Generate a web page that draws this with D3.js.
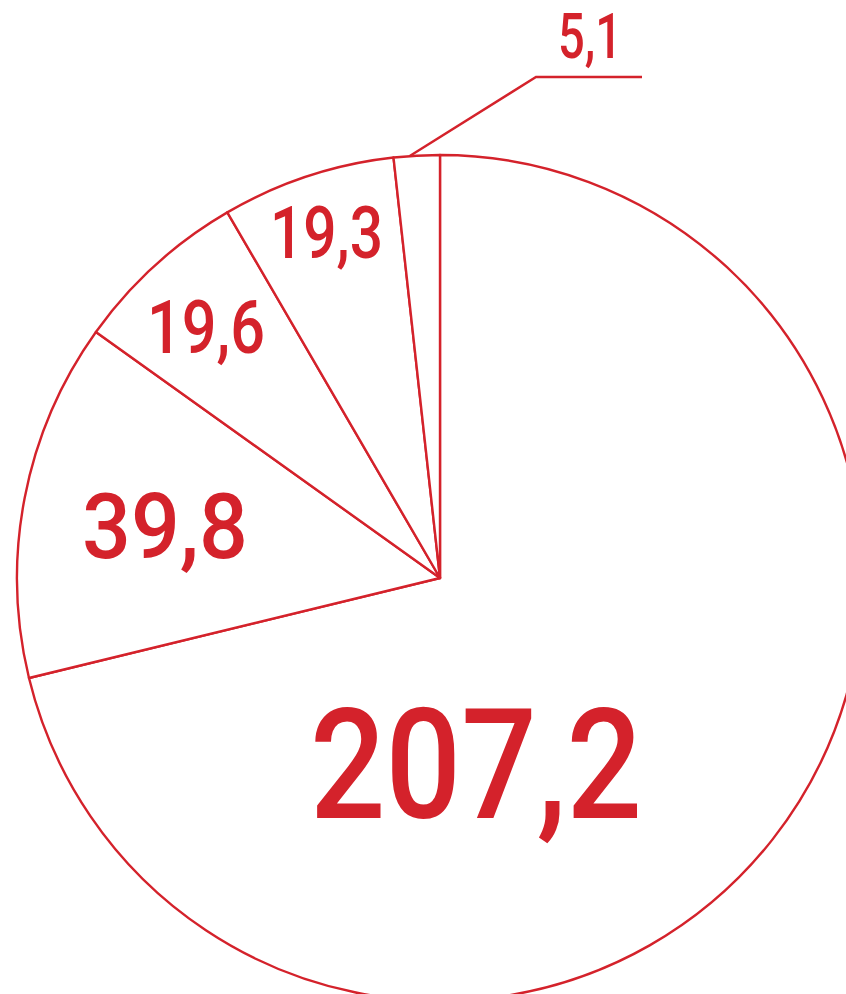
<!DOCTYPE html>
<html>
<head>
<meta charset="utf-8">
<script src="https://cdn.jsdelivr.net/npm/d3@7"></script>
<style>
  html, body { margin: 0; padding: 0; background: #fff; }
  svg { display: block; }
</style>
</head>
<body>
<svg id="chart" width="846" height="994"></svg>
<script>
// slice values, clockwise from 12 o'clock
const categories = ['a', 'b', 'c', 'd', 'e'];
const values = [207.2, 39.8, 19.6, 19.3, 5.1];
const labels = ['207,2', '39,8', '19,6', '19,3', '5,1'];

const red = '#d4222b';
const svg = d3.select('#chart');
const cx = 440, cy = 578, radius = 423;

const data = categories.map((c, i) => ({ key: c, value: values[i], label: labels[i] }));

const pie = d3.pie().sort(null).value(d => d.value).startAngle(0).endAngle(2 * Math.PI);
const arc = d3.arc().innerRadius(0).outerRadius(radius);

const g = svg.append('g').attr('transform', `translate(${cx},${cy})`);

g.selectAll('path.slice')
  .data(pie(data))
  .join('path')
  .attr('class', 'slice')
  .attr('d', arc)
  .attr('fill', '#fff')
  .attr('stroke', red)
  .attr('stroke-width', 2.4)
  .attr('stroke-linejoin', 'round');

// label layout: offset from centre (x of left edge, baseline), cap height, width
const labelLayout = [
  { dx: -130, dy: 240, cap: 110, w: 332 },
  { dx: -358, dy: -20, cap: 65, w: 166 },
  { dx: -293, dy: -225, cap: 53, w: 118 },
  { dx: -170, dy: -320, cap: 51, w: 113 },
  { dx: 118, dy: -520, cap: 45, w: 64 }
];

const capRatio = 0.711;
g.selectAll('text.val')
  .data(data)
  .join('text')
  .attr('class', 'val')
  .attr('x', (d, i) => labelLayout[i].dx)
  .attr('y', (d, i) => labelLayout[i].dy)
  .attr('font-family', 'Roboto, "DejaVu Sans Condensed", sans-serif')
  .attr('font-weight', 500)
  .attr('font-size', (d, i) => labelLayout[i].cap / capRatio)
  .attr('textLength', (d, i) => labelLayout[i].w)
  .attr('lengthAdjust', 'spacingAndGlyphs')
  .attr('fill', red)
  .text(d => d.label);

// leader line for the smallest slice
const small = pie(data)[4];
const ang = small.startAngle + (small.endAngle - small.startAngle) * 0.35;
const p0 = [Math.sin(ang) * radius, -Math.cos(ang) * radius];
const knee = [96, -501];
const end = [202, -501];
g.append('path')
  .attr('d', d3.line()([p0, knee, end]))
  .attr('fill', 'none')
  .attr('stroke', red)
  .attr('stroke-width', 2.4);
</script>
</body>
</html>
